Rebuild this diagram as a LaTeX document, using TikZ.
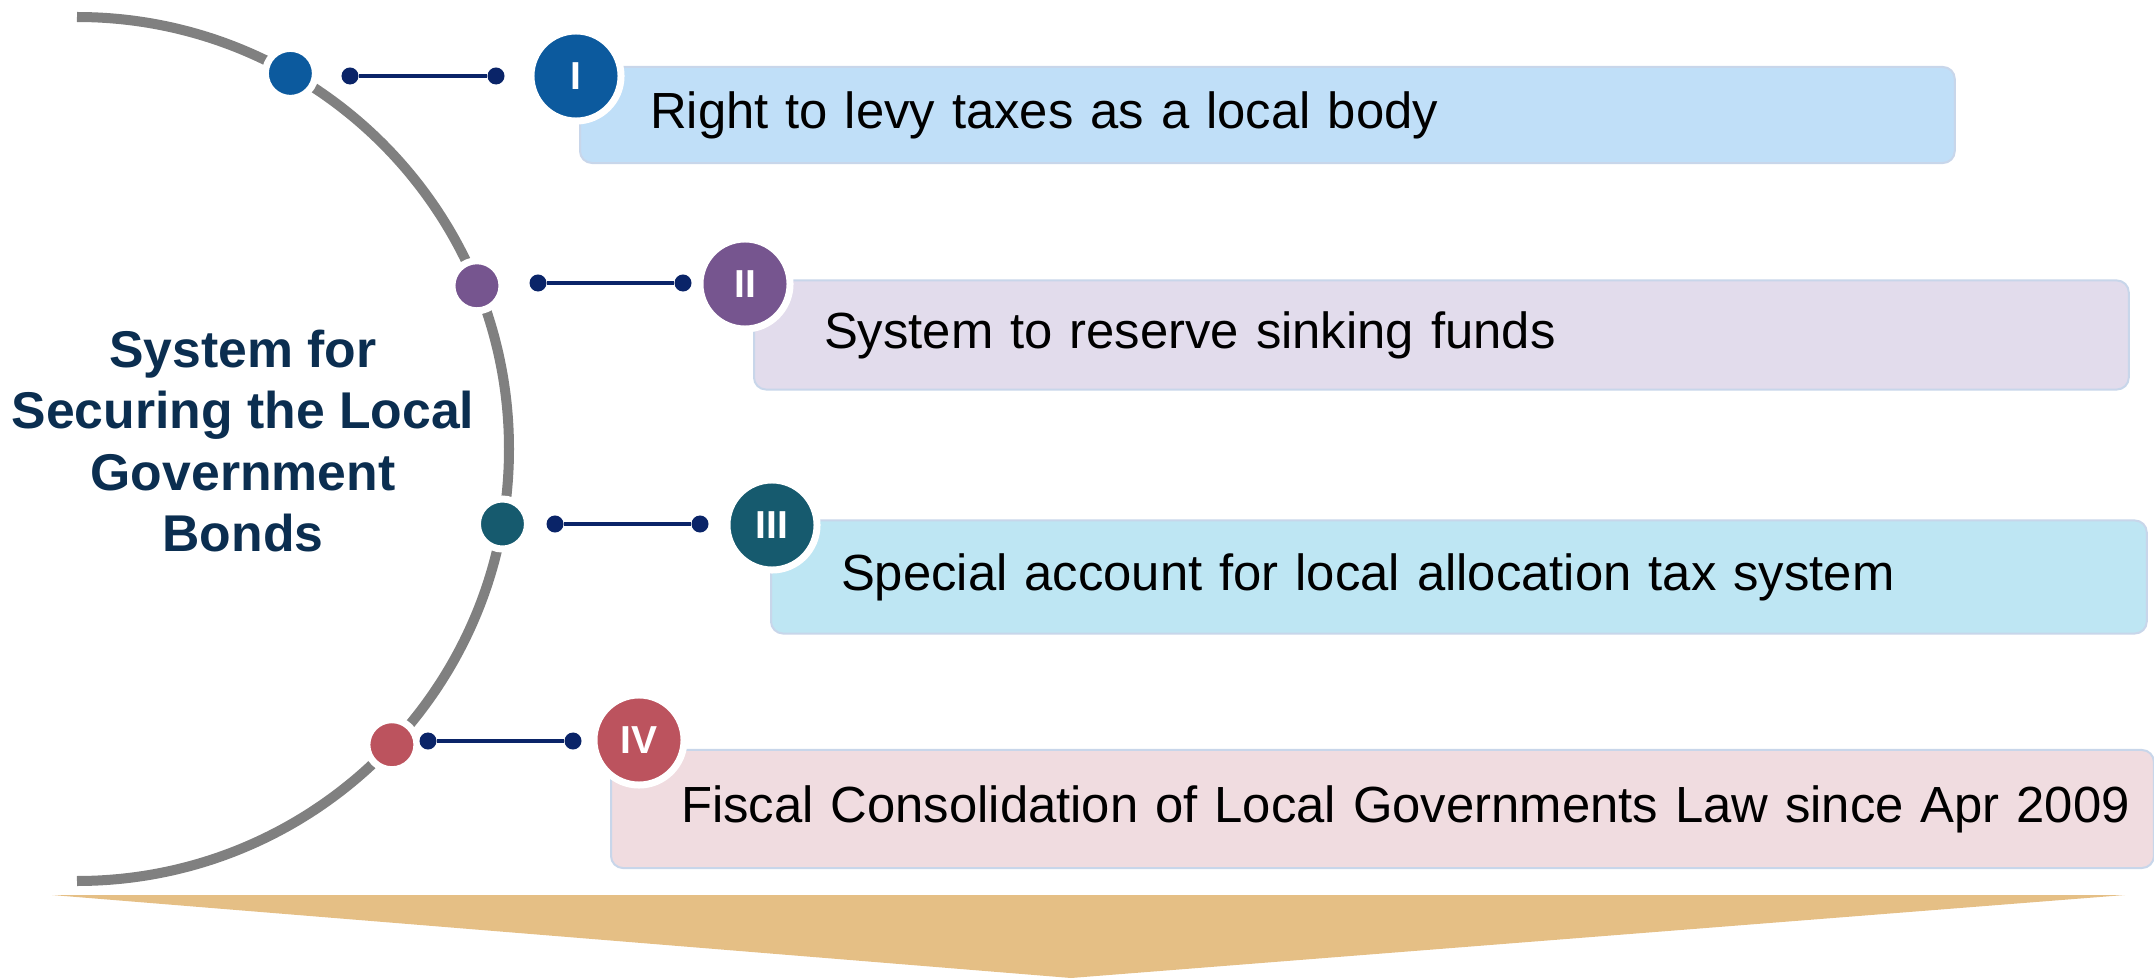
\documentclass[tikz,border=0pt]{standalone}
\usepackage{fontspec}
\setmainfont{Liberation Sans}
\usetikzlibrary{calc}
\definecolor{arcgray}{RGB}{128,128,128}
\definecolor{linknavy}{RGB}{10,36,104}
\definecolor{titlenavy}{RGB}{11,46,80}
\definecolor{colI}{RGB}{12,90,158}
\definecolor{colII}{RGB}{118,85,143}
\definecolor{colIII}{RGB}{22,90,110}
\definecolor{colIV}{RGB}{188,83,94}
\definecolor{fillI}{RGB}{192,223,248}
\definecolor{fillII}{RGB}{226,220,236}
\definecolor{fillIII}{RGB}{190,230,243}
\definecolor{fillIV}{RGB}{240,220,224}
\definecolor{boxedge}{RGB}{200,214,234}
\definecolor{arrowgold}{RGB}{229,191,133}

\begin{document}
\begin{tikzpicture}[x=0.01cm, y=0.01cm]


    
    \tikzset{%
    arc dot/.style={
        circle,
        draw=white,
        line width=0.07cm,
        minimum size=0.5cm,
        inner sep=0pt
        },
    link end/.style={
        circle,
        fill=linknavy,
        minimum size=0.17cm,
        inner sep=0pt
        },
    badge/.style={
        circle,
        draw=white,
        line width=0.07cm,
        minimum size=0.9cm,
        inner sep=0pt,
        text=white,
        font=\fontsize{11.1}{13}\selectfont\bfseries
        },
    item box/.style={
        rectangle,
        rounded corners=0.12cm,
        draw=boxedge,
        line width=0.02cm,
        anchor=west,
        inner sep=0pt,
        align=left,
        font=\fontsize{14.45}{17.4}\selectfont,
        execute at begin node=\hspace*{0.7cm}
        },
    }
    
    \useasboundingbox (0,0) rectangle (2154,978);

    % Gold arrow at the bottom
    \fill [arrowgold] (52,83) -- (2125,83) -- (1071,0) -- cycle;
    
    % Gray arc round the title
    \draw [arcgray, line width=0.1cm] (77,961) arc [start angle=90, end angle=-90, radius=432];
    
    % Dots sitting on the arc
    \foreach \a/\c [count=\i] in {60.4/colI,22.2/colII,-10/colIII,-43.2/colIV}
    \node [arc dot, fill=\c] (pin-\i) at ($(77,529)+(\a:432)$) {};
    
    % Short links with round ends
    \foreach \xa/\xb/\y [count=\i] in {350/496/902,538/683/695,555/700/454,428/573/237} {
    \node [link end] (stub-\i) at (\xa,\y) {};
    \node [link end] (tip-\i) at (\xb,\y) {};
    \draw [linknavy, line width=0.04cm] (stub-\i) -- (tip-\i);
    }
    
    % Text boxes
    \node [item box, fill=fillI, minimum height=0.96cm, text width=13.74cm] (item-1) at (579,863) {Right to levy taxes as a local body};
    \node [item box, fill=fillII, minimum height=1.09cm, text width=13.74cm] (item-2) at (753,643) {System to reserve sinking funds};
    \node [item box, fill=fillIII, minimum height=1.13cm, text width=13.75cm] (item-3) at (770,401) {Special account for local allocation tax system};
    \node [item box, fill=fillIV, minimum height=1.18cm, text width=15.42cm] (item-4) at (610,169) {Fiscal Consolidation of Local Governments Law since Apr 2009};
    
    % Numbered badges on the box corners
    \foreach \l/\c/\x/\y [count=\i] in {I/colI/576/902,II/colII/745/694,III/colIII/772/453,IV/colIV/639/238}
    \node [badge, fill=\c] (badge-\i) at (\x,\y) {\l};
    
    % Title inside the arc
    \node [align=center, text=titlenavy, font=\fontsize{14.7}{17.4}\selectfont\bfseries] (title) at (243,537) {System for\\Securing the Local\\Government\\Bonds};
    
\end{tikzpicture}
\end{document}
